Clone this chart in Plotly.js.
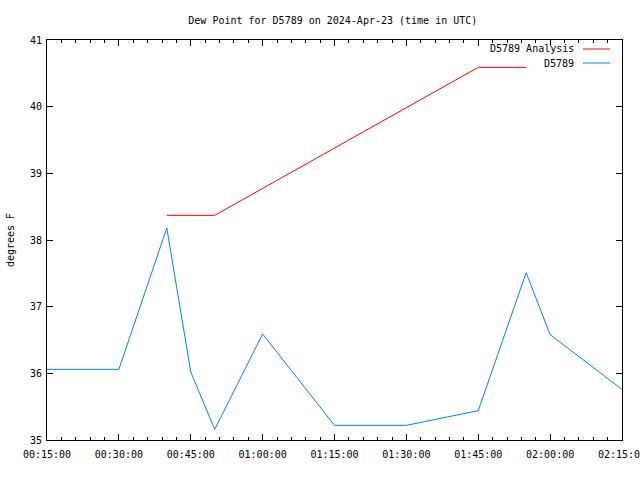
<!DOCTYPE html>
<html>
<head>
<meta charset="utf-8">
<script src="https://cdn.plot.ly/plotly-3.0.1.min.js"></script>
<style>html,body{margin:0;padding:0;background:#fff;}#chart{width:640px;height:480px;}</style>
</head>
<body>
<div id="chart"></div>
<script>
const obsTimes = ["2024-04-23 00:15:00","2024-04-23 00:30:00","2024-04-23 00:40:00","2024-04-23 00:45:00","2024-04-23 00:50:00","2024-04-23 01:00:00","2024-04-23 01:15:00","2024-04-23 01:30:00","2024-04-23 01:45:00","2024-04-23 01:55:00","2024-04-23 02:00:00","2024-04-23 02:15:00"];
const obsValues = [36.06, 36.06, 38.18, 36.02, 35.16, 36.59, 35.22, 35.22, 35.44, 37.51, 36.58, 35.76];
const anaTimes = ["2024-04-23 00:40:00","2024-04-23 00:50:00","2024-04-23 01:45:00","2024-04-23 01:55:00"];
const anaValues = [38.37, 38.37, 40.59, 40.59];
const xTickVals = ["2024-04-23 00:15:00","2024-04-23 00:30:00","2024-04-23 00:45:00","2024-04-23 01:00:00","2024-04-23 01:15:00","2024-04-23 01:30:00","2024-04-23 01:45:00","2024-04-23 02:00:00","2024-04-23 02:15:00"];
const xTickText = ["00:15:00","00:30:00","00:45:00","01:00:00","01:15:00","01:30:00","01:45:00","02:00:00","02:15:00"];
const seriesNames = ["D5789 Analysis","D5789"];
const seriesColors = ["#ff0000","#0080ff"];

const font = {family: "DejaVu Sans Mono, monospace", size: 10, color: "#000"};

const traces = [
  {x: anaTimes, y: anaValues, type: "scatter", mode: "lines", name: seriesNames[0], line: {color: seriesColors[0], width: 1}, cliponaxis: false},
  {x: obsTimes, y: obsValues, type: "scatter", mode: "lines", name: seriesNames[1], line: {color: seriesColors[1], width: 1}, cliponaxis: false}
];

// custom gnuplot-style legend (text then sample line)
const annotations = [];
const shapes = [];
seriesNames.forEach((n, i) => {
  const yp = 1 - (9 + 14 * i) / 400;
  annotations.push({xref: "paper", yref: "paper", x: (576 - 47) / 575, y: yp, xanchor: "right", yanchor: "middle", text: n, showarrow: false, font: font});
  shapes.push({type: "line", xref: "paper", yref: "paper", x0: (583 - 47) / 575, x1: (610 - 47) / 575, y0: yp, y1: yp, line: {color: seriesColors[i], width: 1}});
});

const layout = {
  width: 640, height: 480,
  margin: {l: 47, r: 18, t: 40, b: 40, pad: 0},
  paper_bgcolor: "#fff", plot_bgcolor: "#fff",
  font: font,
  showlegend: false,
  title: {text: "Dew Point for D5789 on 2024-Apr-23 (time in UTC)", font: font, x: 0.52, xanchor: "center", y: 1 - 20 / 480, yanchor: "middle"},
  xaxis: {
    type: "date",
    range: ["2024-04-23 00:14:59.999", "2024-04-23 02:15:00.001"],
    tickmode: "array", tickvals: xTickVals, ticktext: xTickText,
    ticks: "inside", ticklen: 6, tickwidth: 1, tickcolor: "#000",
    ticklabelstandoff: 5, ticklabeloverflow: "allow",
    minor: {dtick: 180000, tick0: "2024-04-23 00:15:00", ticks: "inside", ticklen: 3, tickcolor: "#000", showgrid: false},
    showline: true, linecolor: "#000", linewidth: 1, mirror: "allticks",
    showgrid: false, zeroline: false, tickfont: font, automargin: false
  },
  yaxis: {
    range: [35, 41], dtick: 1, tick0: 35,
    ticks: "inside", ticklen: 6, tickwidth: 1, tickcolor: "#000",
    ticklabelstandoff: 2,
    showline: true, linecolor: "#000", linewidth: 1, mirror: "allticks",
    showgrid: false, zeroline: false, tickfont: font,
    title: {text: "degrees F", font: font, standoff: 13}, automargin: false
  },
  annotations: annotations,
  shapes: shapes
};

Plotly.newPlot("chart", traces, layout, {staticPlot: true, displayModeBar: false});
</script>
</body>
</html>
